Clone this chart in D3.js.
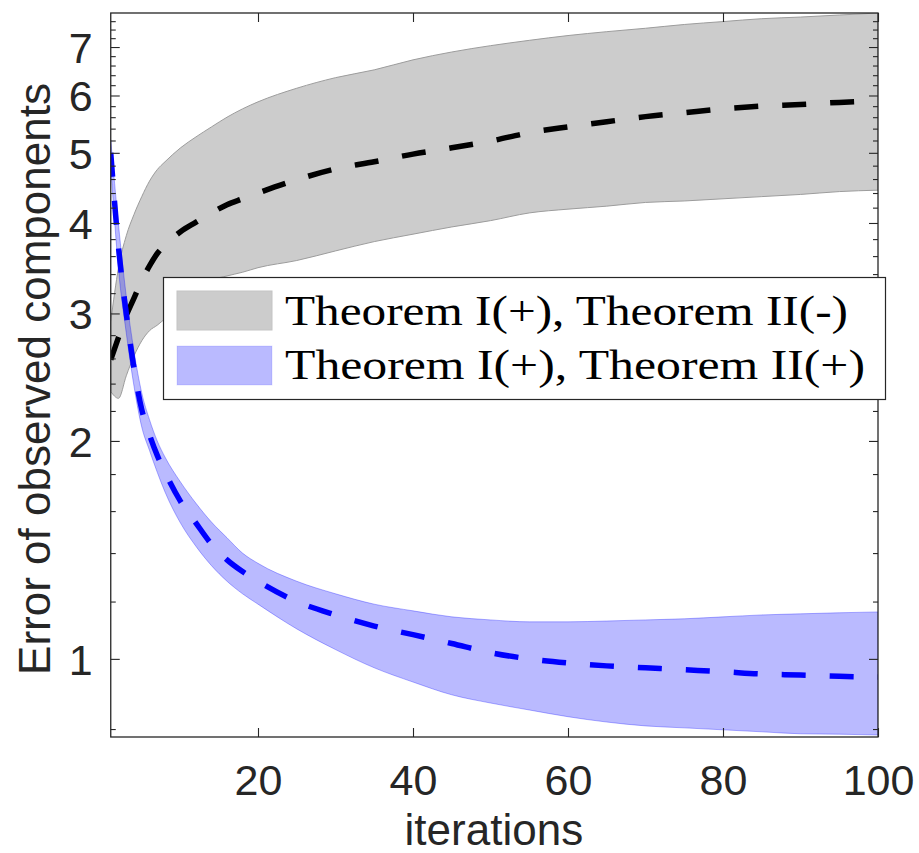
<!DOCTYPE html>
<html>
<head>
<meta charset="utf-8">
<script src="https://cdn.jsdelivr.net/npm/d3@7"></script>
<style>
  body { margin: 0; background: #ffffff; }
  svg { display: block; }
</style>
</head>
<body>
<svg id="chart" width="919" height="853"></svg>
<script>
// ---------------- data ----------------
const iterations = [1, 2, 3, 4, 5, 6, 7, 8, 10, 12, 14, 16, 18, 20, 25, 30, 35, 40, 45, 50, 55, 60, 65, 70, 75, 80, 85, 90, 95, 100];

// Theorem I(+), Theorem II(-)  (gray band + black dashed mean)
const grayUpper = [2.92, 3.47, 3.84, 4.11, 4.35, 4.57, 4.74, 4.86, 5.08, 5.26, 5.43, 5.60, 5.75, 5.88, 6.14, 6.35, 6.51, 6.72, 6.89, 7.03, 7.15, 7.26, 7.35, 7.43, 7.52, 7.59, 7.66, 7.70, 7.75, 7.80];
const grayLower = [2.34, 2.29, 2.46, 2.62, 2.75, 2.84, 2.89, 2.95, 3.08, 3.19, 3.33, 3.38, 3.42, 3.47, 3.55, 3.66, 3.77, 3.86, 3.95, 4.03, 4.13, 4.18, 4.22, 4.27, 4.29, 4.32, 4.35, 4.38, 4.42, 4.44];
const blackMean = [2.59, 2.78, 2.98, 3.15, 3.33, 3.49, 3.63, 3.73, 3.89, 4.01, 4.13, 4.24, 4.32, 4.40, 4.59, 4.75, 4.86, 4.98, 5.08, 5.19, 5.33, 5.43, 5.52, 5.61, 5.68, 5.75, 5.80, 5.83, 5.87, 5.90];

// Theorem I(+), Theorem II(+)  (blue band + blue dashed mean)
const blueUpper = [5.21, 3.98, 3.17, 2.66, 2.33, 2.14, 2.00, 1.90, 1.755, 1.64, 1.545, 1.47, 1.40, 1.355, 1.28, 1.23, 1.19, 1.165, 1.143, 1.132, 1.125, 1.125, 1.128, 1.132, 1.136, 1.143, 1.150, 1.154, 1.158, 1.161];
const blueLower = [4.80, 3.45, 2.82, 2.38, 2.09, 1.94, 1.81, 1.70, 1.54, 1.43, 1.345, 1.28, 1.23, 1.19, 1.10, 1.03, 0.972, 0.929, 0.892, 0.869, 0.850, 0.832, 0.818, 0.808, 0.803, 0.798, 0.793, 0.788, 0.787, 0.785];
const blueMean  = [5.00, 3.70, 3.00, 2.52, 2.21, 2.04, 1.91, 1.81, 1.65, 1.54, 1.44, 1.37, 1.32, 1.28, 1.20, 1.15, 1.11, 1.08, 1.05, 1.02, 1.00, 0.987, 0.978, 0.972, 0.966, 0.960, 0.953, 0.950, 0.946, 0.944];

const xTicks = [20, 40, 60, 80, 100];
const yTicks = [1, 2, 3, 4, 5, 6, 7];
const yMinorTicks = [0.8, 1.2, 1.4, 1.6, 1.8, 2.2, 2.4, 2.6, 2.8, 3.2, 3.4, 3.6, 3.8, 4.2, 4.4, 4.6, 4.8,
                     5.2, 5.4, 5.6, 5.8, 6.2, 6.4, 6.6, 6.8, 7.2, 7.4, 7.6];
const legendLabels = ["Theorem I(+), Theorem II(-)", "Theorem I(+), Theorem II(+)"];
const xLabel = "iterations";
const yLabel = "Error of observed components";

// ---------------- layout ----------------
const plot = { left: 110.75, right: 878, top: 13, bottom: 737 };
const axisColor = "#262626";
const sansFont = "'Liberation Sans', Arial, Helvetica, sans-serif";

const x = d3.scaleLinear().domain([1, 100]).range([plot.left, plot.right]);
const y = d3.scaleLog().domain([0.78, 7.8]).range([plot.bottom, plot.top]);

const svg = d3.select("#chart");

svg.append("defs").append("clipPath").attr("id", "plotClip")
  .append("rect")
  .attr("x", plot.left).attr("y", plot.top)
  .attr("width", plot.right - plot.left).attr("height", plot.bottom - plot.top);

const g = svg.append("g").attr("clip-path", "url(#plotClip)");

const band = (lo, hi) => d3.area()
  .x((d, i) => x(iterations[i]))
  .y0((d, i) => y(lo[i]))
  .y1((d, i) => y(hi[i]))
  .curve(d3.curveMonotoneX);

const meanLine = (vals) => d3.line()
  .x((d, i) => x(iterations[i]))
  .y((d, i) => y(vals[i]))
  .curve(d3.curveMonotoneX);

// gray band
g.append("path").datum(iterations)
  .attr("d", band(grayLower, grayUpper))
  .attr("fill", "#cccccc")
  .attr("stroke", "#9c9c9c")
  .attr("stroke-width", 1);

// black dashed mean
g.append("path").datum(iterations)
  .attr("d", meanLine(blackMean))
  .attr("fill", "none")
  .attr("stroke", "#000000")
  .attr("stroke-width", 5.5)
  .attr("stroke-dasharray", "24,24");

// blue band
g.append("path").datum(iterations)
  .attr("d", band(blueLower, blueUpper))
  .attr("fill", "#0000ff")
  .attr("fill-opacity", 0.27)
  .attr("stroke", "#0000ff")
  .attr("stroke-opacity", 0.3)
  .attr("stroke-width", 1);

// blue dashed mean
g.append("path").datum(iterations)
  .attr("d", meanLine(blueMean))
  .attr("fill", "none")
  .attr("stroke", "#0000ff")
  .attr("stroke-width", 5.5)
  .attr("stroke-dasharray", "24,24");

// ---------------- axes ----------------
function styleAxis(sel) {
  sel.select(".domain").remove();
  sel.selectAll(".tick line").attr("stroke", axisColor).attr("stroke-width", 1.1);
  sel.selectAll(".tick text").attr("fill", axisColor)
    .style("font-family", sansFont).style("font-size", "43px");
}

// left major with labels
svg.append("g").attr("transform", `translate(${plot.left},0)`)
  .call(d3.axisLeft(y).tickValues(yTicks).tickFormat(d3.format("d")).tickSize(-9).tickPadding(18))
  .call(styleAxis)
  .call(s => s.selectAll(".tick text").attr("dy", "0.36em"));
// left minor
svg.append("g").attr("transform", `translate(${plot.left},0)`)
  .call(d3.axisLeft(y).tickValues(yMinorTicks).tickFormat("").tickSize(-5))
  .call(styleAxis);
// right major + minor
svg.append("g").attr("transform", `translate(${plot.right},0)`)
  .call(d3.axisRight(y).tickValues(yTicks).tickFormat("").tickSize(-9))
  .call(styleAxis);
svg.append("g").attr("transform", `translate(${plot.right},0)`)
  .call(d3.axisRight(y).tickValues(yMinorTicks).tickFormat("").tickSize(-5))
  .call(styleAxis);
// bottom with labels
svg.append("g").attr("transform", `translate(0,${plot.bottom})`)
  .call(d3.axisBottom(x).tickValues(xTicks).tickFormat(d3.format("d")).tickSize(-9).tickPadding(27))
  .call(styleAxis);
// top
svg.append("g").attr("transform", `translate(0,${plot.top})`)
  .call(d3.axisTop(x).tickValues(xTicks).tickFormat("").tickSize(-9))
  .call(styleAxis);

// box
svg.append("rect")
  .attr("x", plot.left).attr("y", plot.top)
  .attr("width", plot.right - plot.left).attr("height", plot.bottom - plot.top)
  .attr("fill", "none").attr("stroke", axisColor).attr("stroke-width", 1.3);

// axis labels
svg.append("text")
  .attr("x", (plot.left + plot.right) / 2 - 0.5).attr("y", 845)
  .attr("text-anchor", "middle")
  .attr("fill", axisColor)
  .style("font-family", sansFont).style("font-size", "44px")
  .text(xLabel);

svg.append("text")
  .attr("transform", `translate(50,379) rotate(-90)`)
  .attr("text-anchor", "middle")
  .attr("fill", axisColor)
  .style("font-family", sansFont).style("font-size", "44px")
  .text(yLabel);

// ---------------- legend ----------------
const legend = svg.append("g");
legend.append("rect")
  .attr("x", 163.5).attr("y", 277.5).attr("width", 722).attr("height", 122)
  .attr("fill", "#ffffff").attr("stroke", axisColor).attr("stroke-width", 1.2);

const legendItems = [
  { label: legendLabels[0], fill: "#cccccc", fillOpacity: 1, stroke: "#c4c4c4", strokeOpacity: 1, top: 291, len: 563, base: 325 },
  { label: legendLabels[1], fill: "#0000ff", fillOpacity: 0.27, stroke: "#0000ff", strokeOpacity: 0.1, top: 346, len: 580, base: 379 }
];
legendItems.forEach(it => {
  legend.append("rect")
    .attr("x", 177).attr("y", it.top).attr("width", 95).attr("height", 39)
    .attr("fill", it.fill).attr("fill-opacity", it.fillOpacity)
    .attr("stroke", it.stroke).attr("stroke-opacity", it.strokeOpacity).attr("stroke-width", 1);
  legend.append("text")
    .attr("x", 285).attr("y", it.base)
    .attr("textLength", it.len).attr("lengthAdjust", "spacingAndGlyphs")
    .attr("fill", "#000000")
    .style("font-family", "'Liberation Serif', 'Times New Roman', serif").style("font-size", "42px")
    .text(it.label);
});
</script>
</body>
</html>
